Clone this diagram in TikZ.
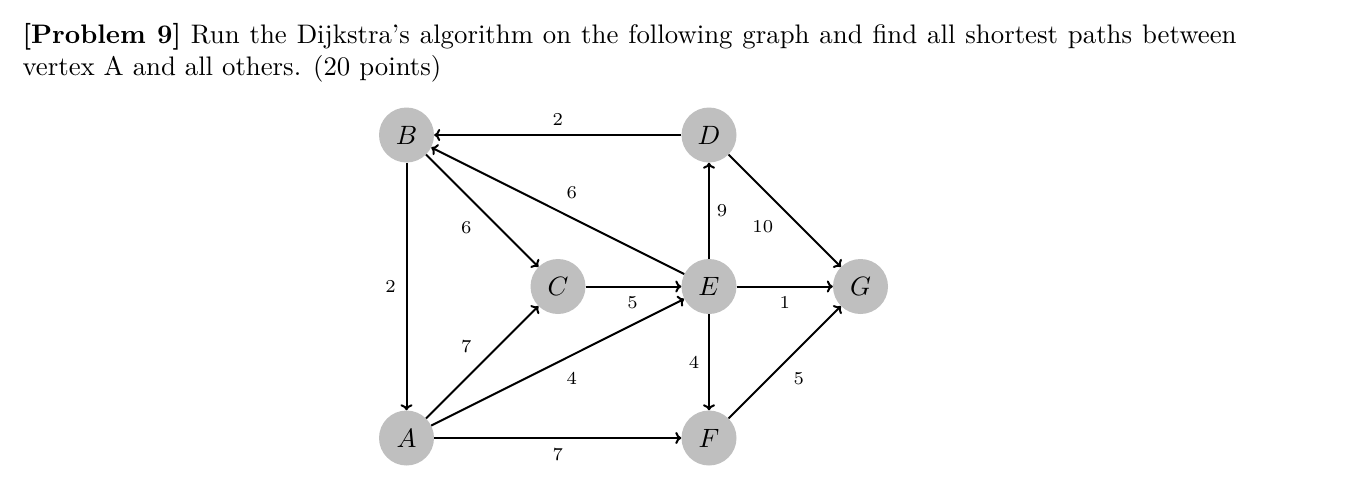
\documentclass[tikz,border=0pt]{standalone}
\usepackage{tikz}
\usepackage{graphicx}
\usetikzlibrary{arrows.meta}
\newcommand{\vlab}[1]{\scalebox{2.65}{$#1$}}
\newcommand{\elab}[1]{\scalebox{2.6}{\fontsize{7}{8}\selectfont #1}}
\begin{document}
\begin{tikzpicture}[x=1pt,y=-1pt,
  vert/.style={circle, fill=black!25, minimum size=55pt, inner sep=0pt},
  edge/.style={-{To[length=6pt,width=12pt]}, line width=2pt},
  lbl/.style={inner sep=0pt},
  ttl/.style={anchor=base west, inner sep=0pt, scale=2.68, font=\fontsize{10}{12}\selectfont}]
\path[use as bounding box] (0,0) rectangle (1356,480);
\node[ttl] (t1) at (22,43) {\makebox[453pt][s]{\textbf{[Problem 9]} Run the Dijkstra's algorithm on the following graph and find all shortest paths between}};
\node[ttl] (t2) at (22,75) {vertex A and all others. (20 points)};
\node[vert] (B) at (406.5,135) {\vlab{B}};
\node[vert] (D) at (709,135) {\vlab{D}};
\node[vert] (C) at (558,286.5) {\vlab{C}};
\node[vert] (E) at (709,286.5) {\vlab{E}};
\node[vert] (G) at (860.5,286.5) {\vlab{G}};
\node[vert] (A) at (406.5,438) {\vlab{A}};
\node[vert] (F) at (709,438) {\vlab{F}};
\draw[edge] (D) -- node[lbl, shift={(0,-16)}] (l1) {\elab{2}} (B);
\draw[edge] (B) -- node[lbl, shift={(-16,17)}] (l2) {\elab{6}} (C);
\draw[edge] (E) -- node[lbl, shift={(14,-18)}] (l3) {\elab{6}} (B);
\draw[edge] (B) -- node[lbl, shift={(-16,0)}] (l4) {\elab{2}} (A);
\draw[edge] (E) -- node[lbl, shift={(13,0)}] (l5) {\elab{9}} (D);
\draw[edge] (D) -- node[lbl, shift={(-22,16)}] (l6) {\elab{10}} (G);
\draw[edge] (C) -- node[lbl, shift={(-1,16)}] (l7) {\elab{5}} (E);
\draw[edge] (E) -- node[lbl, shift={(0,16)}] (l8) {\elab{1}} (G);
\draw[edge] (A) -- node[lbl, shift={(-16,-16)}] (l9) {\elab{7}} (C);
\draw[edge] (A) -- node[lbl, shift={(14,16)}] (l10) {\elab{4}} (E);
\draw[edge] (E) -- node[lbl, shift={(-15,0)}] (l11) {\elab{4}} (F);
\draw[edge] (F) -- node[lbl, shift={(14,16)}] (l12) {\elab{5}} (G);
\draw[edge] (A) -- node[lbl, shift={(0,17)}] (l13) {\elab{7}} (F);
\end{tikzpicture}
\end{document}
